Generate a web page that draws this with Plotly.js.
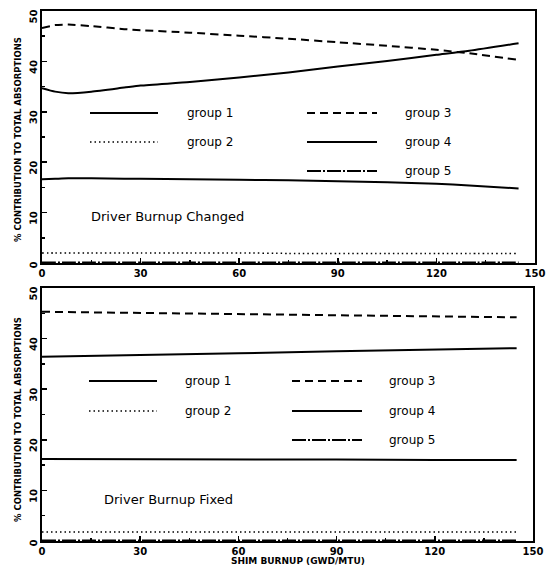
<!DOCTYPE html>
<html>
<head>
<meta charset="utf-8">
<script src="https://cdn.plot.ly/plotly-3.0.1.min.js"></script>
<style>html,body{margin:0;padding:0;background:#fff;}#chart{width:551px;height:574px;}</style>
</head>
<body>
<div id="chart"></div>
<script>
// ---- Data: top panel (Driver Burnup Changed) ----
const topBurnup = [0, 4, 8, 15, 25, 30, 45, 60, 75, 90, 105, 120, 130, 145];
const topGroup1 = [16.6, 16.7, 16.8, 16.8, 16.7, 16.7, 16.6, 16.5, 16.4, 16.2, 16.0, 15.7, 15.4, 14.8];
const topGroup2 = [2.0, 2.0, 2.0, 2.0, 2.0, 2.0, 2.0, 2.0, 1.9, 1.9, 1.9, 1.9, 1.9, 1.9];
const topGroup3 = [46.6, 47.2, 47.3, 47.0, 46.4, 46.2, 45.7, 45.1, 44.5, 43.8, 43.1, 42.3, 41.6, 40.3];
const topGroup4 = [34.7, 34.0, 33.7, 34.0, 34.8, 35.2, 35.9, 36.8, 37.8, 39.0, 40.1, 41.3, 42.1, 43.6];
const topGroup5 = [0.1, 0.1, 0.1, 0.1, 0.1, 0.1, 0.1, 0.1, 0.1, 0.1, 0.1, 0.1, 0.1, 0.1];

// ---- Data: bottom panel (Driver Burnup Fixed) ----
const botBurnup = [0, 30, 60, 90, 120, 145];
const botGroup1 = [16.2, 16.2, 16.1, 16.1, 16.0, 16.0];
const botGroup2 = [1.8, 1.8, 1.8, 1.8, 1.8, 1.8];
const botGroup3 = [45.3, 45.1, 44.9, 44.7, 44.5, 44.2];
const botGroup4 = [36.4, 36.7, 37.1, 37.5, 37.8, 38.1];
const botGroup5 = [0.1, 0.1, 0.1, 0.1, 0.1, 0.1];

const groupNames = ['group 1', 'group 2', 'group 3', 'group 4', 'group 5'];
const xTicks = [0, 30, 60, 90, 120, 150];
const yTicks = [0, 10, 20, 30, 40, 50];
const panelLabels = ['Driver Burnup Changed', 'Driver Burnup Fixed'];
const yTitle = '% CONTRIBUTION TO TOTAL ABSORPTIONS';
const xTitle = 'SHIM BURNUP (GWD/MTU)';

// ---- Styles ----
const W = 551, H = 574;
const px = v => v / W;
const py = v => 1 - v / H;
const dashes = ['solid', '1.5px,3px', '8px,5px', 'solid', '14px,2px,2px,2px'];
const widths = [2, 1.5, 2, 2, 2];

const traces = [];
const topSeries = [topGroup1, topGroup2, topGroup3, topGroup4, topGroup5];
const botSeries = [botGroup1, botGroup2, botGroup3, botGroup4, botGroup5];
topSeries.forEach((s, i) => traces.push({
  x: topBurnup, y: s, xaxis: 'x', yaxis: 'y', mode: 'lines', name: groupNames[i],
  line: {color: '#000', width: widths[i], dash: dashes[i], shape: 'spline', smoothing: 0.6},
  showlegend: false, hoverinfo: 'skip'
}));
botSeries.forEach((s, i) => traces.push({
  x: botBurnup, y: s, xaxis: 'x2', yaxis: 'y2', mode: 'lines', name: groupNames[i],
  line: {color: '#000', width: widths[i], dash: dashes[i]},
  showlegend: false, hoverinfo: 'skip'
}));

const tickFont = {family: 'DejaVu Sans', size: 10, color: '#000', weight: 'bold'};
function xAxis(domain, anchor) {
  return {domain: domain, anchor: anchor, range: [0, 150], tickvals: xTicks, ticktext: xTicks.map(String),
    ticks: 'inside', ticklen: 5, tickwidth: 1.5, tickcolor: '#000',
    minor: {tickvals: [15, 45, 75, 105, 135], ticks: 'inside', ticklen: 3, tickcolor: '#000'},
    showline: true, linewidth: 2, linecolor: '#000', mirror: true, showgrid: false, zeroline: false,
    tickfont: tickFont, fixedrange: true};
}
function yAxis(domain, anchor) {
  return {domain: domain, anchor: anchor, range: [0, 50], tickvals: yTicks, ticktext: yTicks.map(String),
    ticks: 'inside', ticklen: 5, tickwidth: 1.5, tickcolor: '#000', tickangle: -89, ticklabelstandoff: 6,
    minor: {tickvals: [5, 15, 25, 35, 45], ticks: 'inside', ticklen: 3, tickcolor: '#000'},
    showline: true, linewidth: 2, linecolor: '#000', mirror: true, showgrid: false, zeroline: false,
    tickfont: tickFont, fixedrange: true};
}

// legend layouts (pixel positions for each panel)
const legendPos = [
  {c1: [90, 158, 185], c2: [307, 377, 403], rows: [113, 142, 171]},
  {c1: [89, 157, 183], c2: [292, 362, 387], rows: [381, 411, 440]}
];
const legendSlots = [[0, 0], [0, 1], [1, 0], [1, 1], [1, 2]]; // [column,row] per group
const shapes = [];
const annotations = [];
legendPos.forEach(p => {
  legendSlots.forEach((slot, g) => {
    const col = slot[0] === 0 ? p.c1 : p.c2;
    const yy = p.rows[slot[1]];
    shapes.push({type: 'line', xref: 'paper', yref: 'paper', x0: px(col[0]), x1: px(col[1]), y0: py(yy), y1: py(yy),
      line: {color: '#000', width: widths[g], dash: dashes[g]}});
    annotations.push({xref: 'paper', yref: 'paper', x: px(col[2]), y: py(yy), xanchor: 'left', yanchor: 'middle',
      text: groupNames[g], showarrow: false, font: {family: 'DejaVu Sans', size: 12, color: '#000'}});
  });
});
annotations.push({xref: 'paper', yref: 'paper', x: px(89), y: py(216), xanchor: 'left', yanchor: 'middle',
  text: panelLabels[0], showarrow: false, font: {family: 'DejaVu Sans', size: 13, color: '#000'}});
annotations.push({xref: 'paper', yref: 'paper', x: px(102), y: py(500), xanchor: 'left', yanchor: 'middle',
  text: panelLabels[1], showarrow: false, font: {family: 'DejaVu Sans', size: 13, color: '#000'}});
annotations.push({xref: 'paper', yref: 'paper', x: px(18), y: py(140), xanchor: 'center', yanchor: 'middle', textangle: -90,
  text: yTitle, showarrow: false, font: {family: 'DejaVu Sans', size: 8.5, color: '#000', weight: 'bold'}});
annotations.push({xref: 'paper', yref: 'paper', x: px(18), y: py(420), xanchor: 'center', yanchor: 'middle', textangle: -90,
  text: yTitle, showarrow: false, font: {family: 'DejaVu Sans', size: 8.5, color: '#000', weight: 'bold'}});
annotations.push({xref: 'paper', yref: 'paper', x: px(298), y: py(561), xanchor: 'center', yanchor: 'middle',
  text: xTitle, showarrow: false, font: {family: 'DejaVu Sans', size: 9, color: '#000', weight: 'bold'}});

const layout = {
  width: W, height: H, margin: {l: 0, r: 0, t: 0, b: 0},
  paper_bgcolor: '#fff', plot_bgcolor: '#fff', showlegend: false,
  xaxis: xAxis([px(42), px(535)], 'y'),
  yaxis: yAxis([py(263), py(11)], 'x'),
  xaxis2: xAxis([px(42), px(533)], 'y2'),
  yaxis2: yAxis([py(541), py(288)], 'x2'),
  shapes: shapes, annotations: annotations
};
Plotly.newPlot('chart', traces, layout, {staticPlot: true, displayModeBar: false});
</script>
</body>
</html>
